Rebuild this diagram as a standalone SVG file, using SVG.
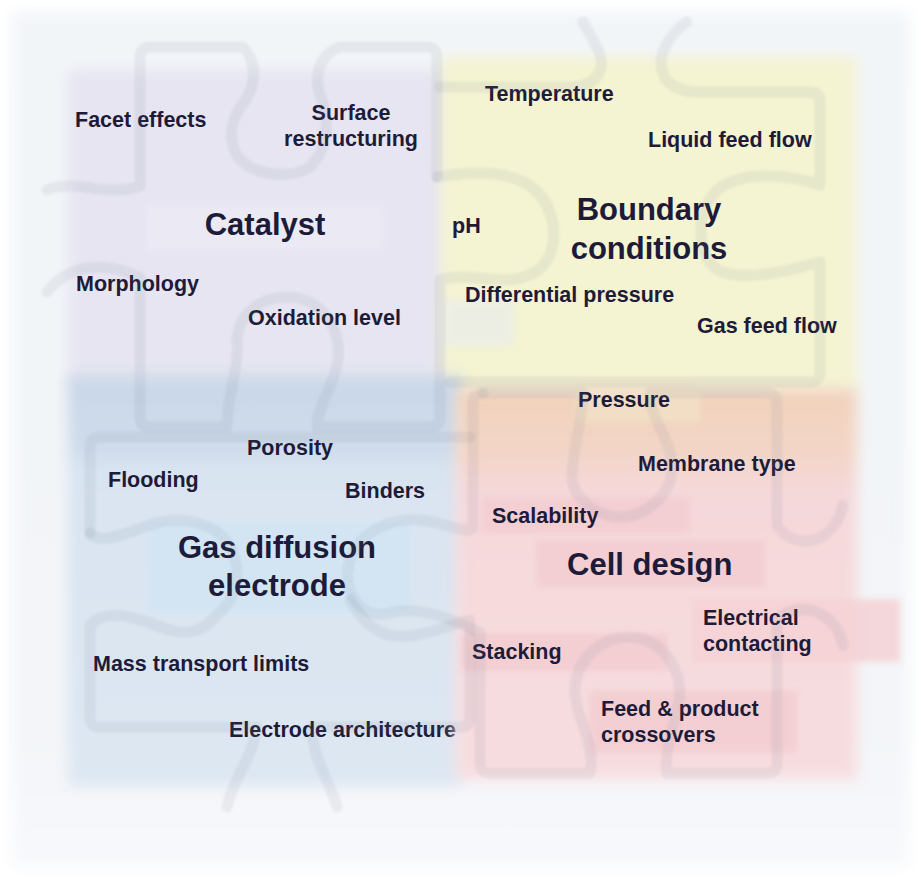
<svg xmlns="http://www.w3.org/2000/svg" width="921" height="879" viewBox="0 0 921 879">
  <defs>
    <filter id="soft" x="-10%" y="-10%" width="120%" height="120%">
      <feGaussianBlur stdDeviation="7"/>
    </filter>
    <filter id="softer" x="-20%" y="-20%" width="140%" height="140%">
      <feGaussianBlur stdDeviation="3"/>
    </filter>
    <filter id="haze" x="-5%" y="-5%" width="110%" height="110%">
      <feGaussianBlur stdDeviation="1.2"/>
    </filter>
    <linearGradient id="cellFill" x1="0" y1="0" x2="0" y2="1">
      <stop offset="0" stop-color="#f1d2bb"/>
      <stop offset="0.16" stop-color="#f3d5c6"/>
      <stop offset="0.26" stop-color="#f5d8da"/>
      <stop offset="1" stop-color="#f7dde0"/>
    </linearGradient>
    <linearGradient id="gdeFill" x1="0" y1="0" x2="0" y2="1">
      <stop offset="0" stop-color="#c9d7e8"/>
      <stop offset="0.17" stop-color="#cedbeb"/>
      <stop offset="0.23" stop-color="#d9e4f1"/>
      <stop offset="1" stop-color="#dde7f2"/>
    </linearGradient>
    <linearGradient id="panelFill" x1="0" y1="0" x2="0" y2="1">
      <stop offset="0" stop-color="#f2f5f8"/>
      <stop offset="0.85" stop-color="#f3f5f8"/>
      <stop offset="1" stop-color="#f8f9fb"/>
    </linearGradient>
  </defs>
  <style>
    .lbl { font-family: "Liberation Sans", Arial, sans-serif; font-weight: bold; font-size: 21.5px; fill: #1d1b38; }
    .ttl { font-family: "Liberation Sans", Arial, sans-serif; font-weight: bold; font-size: 31px; fill: #1d1b38; }
    .mid { text-anchor: middle; }
    .edge { fill: none; stroke: #6f7186; stroke-opacity: 0.1; stroke-width: 11; stroke-linecap: round; stroke-linejoin: round; }
    .tag { filter: url(#softer); }
  </style>

  <!-- page and soft panel -->
  <rect x="0" y="0" width="921" height="879" fill="#ffffff"/>
  <rect x="12" y="12" width="897" height="856" fill="url(#panelFill)" filter="url(#soft)"/>

  <!-- Catalyst -->
  <g id="catalyst">
    <rect x="68" y="70" width="378" height="318" fill="#e6e5f1" filter="url(#soft)"/>
    <rect class="tag" x="146" y="205" width="238" height="46" fill="#ebeaf5" opacity="0.8"/>
    <text class="lbl" x="75" y="127">Facet effects</text>
    <text class="lbl mid" x="351" y="120">Surface</text>
    <text class="lbl mid" x="351" y="146">restructuring</text>
    <text class="ttl mid" x="265" y="235">Catalyst</text>
    <text class="lbl" x="76" y="291">Morphology</text>
    <text class="lbl" x="248" y="325">Oxidation level</text>
  </g>

  <!-- Boundary conditions -->
  <g id="boundary-conditions">
    <rect x="441" y="57" width="416" height="336" fill="#f4f3d2" filter="url(#soft)"/>
    <rect class="tag" x="442" y="300" width="72" height="46" fill="#e9ecef" opacity="0.6"/>
    <text class="lbl" x="485" y="101">Temperature</text>
    <text class="lbl" x="648" y="147">Liquid feed flow</text>
    <text class="lbl" x="452" y="233">pH</text>
    <text class="ttl mid" x="649" y="220">Boundary</text>
    <text class="ttl mid" x="649" y="259">conditions</text>
    <text class="lbl" x="465" y="302">Differential pressure</text>
    <text class="lbl" x="697" y="333">Gas feed flow</text>
  </g>

  <!-- Gas diffusion electrode -->
  <g id="gas-diffusion-electrode">
    <rect x="68" y="376" width="394" height="410" fill="url(#gdeFill)" filter="url(#soft)"/>
    <rect class="tag" x="148" y="523" width="262" height="88" fill="#d2e5f4" opacity="0.85"/>
    <text class="lbl" x="247" y="455">Porosity</text>
    <text class="lbl" x="108" y="487">Flooding</text>
    <text class="lbl" x="345" y="498">Binders</text>
    <text class="ttl mid" x="277" y="558">Gas diffusion</text>
    <text class="ttl mid" x="277" y="596">electrode</text>
    <text class="lbl" x="93" y="671">Mass transport limits</text>
    <text class="lbl" x="229" y="737">Electrode architecture</text>
  </g>

  <!-- Cell design -->
  <g id="cell-design">
    <rect x="456" y="389" width="401" height="390" fill="url(#cellFill)" filter="url(#soft)"/>
    <rect class="tag" x="576" y="386" width="124" height="36" fill="#f3e3c8" opacity="0.7"/>
    <rect class="tag" x="482" y="497" width="208" height="36" fill="#f3cdd2" opacity="0.85"/>
    <rect class="tag" x="536" y="540" width="229" height="47" fill="#f3cdd2" opacity="0.85"/>
    <rect class="tag" x="692" y="599" width="208" height="63" fill="#f5d2d6" opacity="0.85"/>
    <rect class="tag" x="461" y="633" width="207" height="38" fill="#f3cdd2" opacity="0.85"/>
    <rect class="tag" x="589" y="690" width="208" height="63" fill="#f3cdd2" opacity="0.85"/>
    <text class="lbl" x="578" y="407">Pressure</text>
    <text class="lbl" x="638" y="471">Membrane type</text>
    <text class="lbl" x="492" y="523">Scalability</text>
    <text class="ttl" x="567" y="575">Cell design</text>
    <text class="lbl" x="703" y="625">Electrical</text>
    <text class="lbl" x="703" y="651">contacting</text>
    <text class="lbl" x="472" y="659">Stacking</text>
    <text class="lbl" x="601" y="716">Feed &amp; product</text>
    <text class="lbl" x="601" y="742">crossovers</text>
  </g>

  <!-- faint jigsaw outlines laid over the four fields -->
  <g id="puzzle-outlines" filter="url(#haze)">
    <!-- upper left piece -->
    <path class="edge" d="M 47,190 C 75,178 105,198 140,186 L 140,57 Q 140,47 150,47 L 243,47 C 258,62 257,88 240,108 C 226,128 228,160 257,170 C 275,177 300,176 312,165 C 328,148 330,118 320,95 C 314,78 318,55 340,47 L 427,47 Q 437,47 437,57 L 437,177"/>
    <!-- pH tab and catalyst lower outline -->
    <path class="edge" d="M 437,177 C 470,172 510,168 535,190 C 560,212 560,258 535,272 C 505,290 470,270 440,280 L 440,417 Q 440,427 430,427 L 317,427 C 317,405 335,385 338,360 C 342,325 318,297 287,297 C 256,297 235,320 237,345 C 239,370 227,395 227,427 L 150,427 Q 140,427 140,417 L 140,278 C 110,262 70,262 47,292"/>
    <!-- boundary piece -->
    <path class="edge" d="M 440,87 L 572,87 C 595,87 605,70 600,55 C 596,42 588,32 583,22"/>
    <path class="edge" d="M 687,22 C 668,35 658,55 662,70 C 665,85 680,92 700,92 L 810,92 Q 820,92 820,102 L 820,185 C 790,175 745,170 720,188 C 698,205 695,245 712,265 C 730,285 785,272 820,262 L 820,372 Q 820,382 810,382 L 450,382"/>
    <!-- cell design piece -->
    <path class="edge" d="M 483,393 L 583,393 C 583,420 572,450 572,478 C 574,500 598,517 620,517 C 645,517 672,495 672,468 C 672,440 650,420 650,393 L 767,393 Q 777,393 777,403 L 777,525 C 790,548 832,550 843,505"/>
    <path class="edge" d="M 843,645 C 835,608 795,600 777,620 L 777,763 Q 777,773 767,773 L 667,773 C 662,750 680,715 680,690 C 678,660 655,637 630,637 C 600,637 578,660 575,685 C 573,715 597,745 590,773 L 490,773 Q 480,773 480,763 L 480,633 C 455,620 420,605 390,613 C 362,620 345,595 348,570 C 352,540 380,518 420,520 C 445,522 465,535 473,528 L 473,403 Q 473,393 483,393"/>
    <!-- gas diffusion electrode pieces -->
    <path class="edge" d="M 90,533 L 90,447 Q 90,437 100,437 L 470,437"/>
    <path class="edge" d="M 90,533 C 100,545 120,535 150,525 C 185,513 220,525 232,550 C 242,575 236,600 218,614 C 205,630 190,636 170,630 C 140,620 110,605 90,625 L 90,717 Q 90,727 100,727 L 257,727 C 252,760 232,780 227,807"/>
    <path class="edge" d="M 337,807 C 330,780 312,760 312,727 L 460,727 Q 470,727 470,717 L 470,620 C 440,628 410,642 385,634 C 368,628 358,612 350,600"/>
  </g>
</svg>
